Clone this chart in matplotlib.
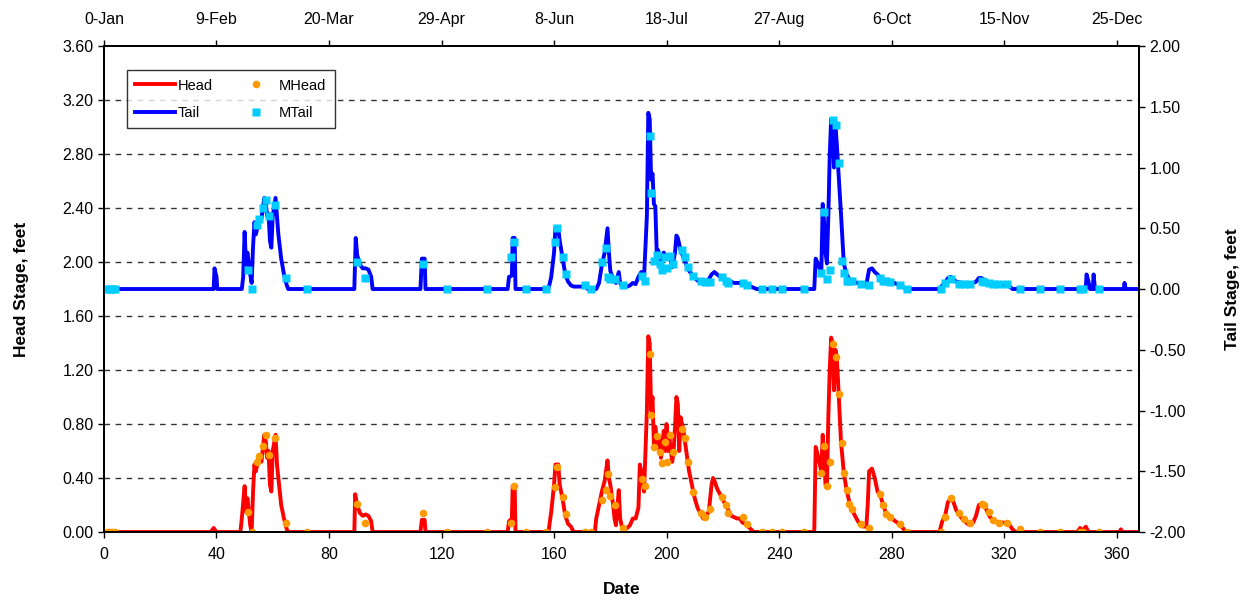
import matplotlib.pyplot as plt
import numpy as np

plt.rcParams['font.family'] = ['Liberation Sans', 'DejaVu Sans']

# head stage line (day, feet)
head_days = [0, 38, 39, 40, 48.5, 49, 50, 50.5, 51, 52, 52.5, 53, 53.5, 54, 55, 56, 57, 57.5, 58, 58.5,
             59, 59.5, 60, 61, 61.5, 62, 63, 64, 65, 65.5,
             89, 89.3, 90, 91, 92, 93, 94, 95, 95.5,
             112.5, 113, 114, 114.3,
             143.5, 144, 145, 145.3, 146, 146.3,
             158, 159, 160, 160.5, 161.5, 162, 163, 164, 165, 166, 167,
             174.5, 175, 176, 177, 178, 179, 179.5, 180, 181, 181.5, 182, 183, 183.5, 184, 185, 186, 187,
             188, 189, 190, 190.5, 191, 192, 193, 193.5, 194, 194.5, 195, 195.5, 196, 197, 197.5, 198,
             199, 199.5, 200, 200.5, 201, 202, 202.5, 203, 203.5, 204, 204.5, 205, 206, 207, 208, 209,
             210, 211, 212, 213, 214, 215, 216, 216.5, 217, 218, 219, 220, 221, 222, 223, 225, 226, 227,
             228, 229, 230, 231,
             252.5, 253, 254, 255, 255.5, 256, 256.5, 257, 257.5, 258, 258.5, 259, 259.5, 260, 260.5,
             261, 262, 263, 264, 265, 266, 267, 268, 269, 270, 271, 271.5, 272, 273, 274, 275, 276, 277,
             278, 280, 282, 284, 285,
             297, 298, 299, 300, 301, 302, 303, 304, 305, 306, 307, 308, 309, 310, 311, 312, 313, 314,
             315, 316, 317, 318, 320, 321, 322, 323, 324,
             346, 347, 348, 349, 350, 361, 361.5, 362, 368]
head = [0, 0, 0.03, 0, 0, 0.1, 0.34, 0.15, 0.25, 0.05, 0, 0.3, 0.5, 0.45, 0.55, 0.52, 0.72, 0.68, 0.55, 0.6,
        0.35, 0.3, 0.6, 0.72, 0.5, 0.4, 0.2, 0.1, 0.02, 0,
        0, 0.28, 0.2, 0.14, 0.12, 0.13, 0.12, 0.08, 0,
        0, 0.09, 0.09, 0,
        0, 0.08, 0.1, 0.34, 0.34, 0,
        0, 0.15, 0.35, 0.5, 0.5, 0.35, 0.25, 0.12, 0.06, 0.04, 0,
        0, 0.1, 0.2, 0.3, 0.38, 0.53, 0.4, 0.35, 0.2, 0.1, 0.05, 0.31, 0.1, 0.05, 0.02, 0.03, 0.05,
        0.1, 0.1, 0.18, 0.5, 0.45, 0.3, 0.9, 1.45, 1.4, 0.9, 1.0, 0.65, 0.78, 0.62, 0.7, 0.55,
        0.75, 0.6, 0.8, 0.6, 0.7, 0.52, 0.6, 0.78, 1.0, 0.95, 0.6, 0.85, 0.75, 0.6, 0.45, 0.35,
        0.25, 0.18, 0.14, 0.1, 0.12, 0.15, 0.35, 0.4, 0.38, 0.32, 0.28, 0.24, 0.2, 0.16, 0.12, 0.1, 0.1, 0.07,
        0.06, 0.04, 0.02, 0,
        0, 0.63, 0.55, 0.45, 0.72, 0.55, 0.35, 0.33, 0.85, 1.2, 1.44, 1.4, 1.05, 1.35, 1.3,
        1.1, 0.67, 0.44, 0.31, 0.22, 0.16, 0.12, 0.08, 0.05, 0.04, 0.04, 0.2, 0.45, 0.47, 0.4, 0.3, 0.27, 0.2,
        0.14, 0.1, 0.07, 0.03, 0,
        0, 0.08, 0.12, 0.22, 0.25, 0.22, 0.16, 0.13, 0.1, 0.08, 0.06, 0.05, 0.07, 0.12, 0.2, 0.21, 0.2, 0.15,
        0.11, 0.09, 0.08, 0.07, 0.07, 0.06, 0.05, 0.02, 0,
        0, 0.03, 0.01, 0.04, 0, 0, 0.02, 0, 0]

# tail stage line (day, feet)
tail_days = [0, 39, 39.3, 40, 40.3, 49, 49.5, 50, 50.5, 51, 52, 52.5, 53, 53.5, 54, 55, 56, 57, 57.5, 58,
             58.5, 59, 59.5, 60, 61, 61.5, 62, 63, 64, 65, 65.5,
             89, 89.5, 90, 91, 92, 93, 94, 95, 95.5,
             112.5, 113, 114, 114.3,
             143.5, 144, 145, 145.3, 146, 146.3,
             158, 159, 160, 160.5, 161.5, 162, 163, 164, 165, 166, 167, 171, 172,
             175, 176, 177, 178, 179, 179.5, 180, 181, 182, 183, 183.5, 184, 186, 187, 188, 189, 190,
             191, 192, 193, 193.5, 194, 194.5, 195, 195.5, 196, 196.5, 197, 198, 199, 200, 201, 202,
             203, 203.5, 204, 205, 206, 207, 208, 209, 210, 211, 212, 213, 215, 216, 217, 218, 219, 220,
             222, 224, 226, 228, 230, 231, 232,
             252.5, 253, 254, 255, 255.5, 256, 256.5, 257, 257.5, 258, 258.5, 259, 259.5, 260, 260.5,
             261, 262, 263, 264, 265, 266, 268, 269, 271, 271.5, 272, 273, 274, 275, 276, 278, 280, 282,
             284, 285,
             297, 298, 299, 300, 301, 302, 303, 305, 308, 310, 311, 312, 313, 315, 317, 319, 320, 322, 323,
             349, 349.3, 350, 350.5, 351.5, 351.8, 352.3, 362.5, 362.8, 363.2, 368]
tail = [0, 0, 0.17, 0.1, 0, 0, 0.1, 0.47, 0.2, 0.3, 0.12, 0.05, 0.35, 0.55, 0.45, 0.55, 0.58, 0.75, 0.72, 0.6,
        0.62, 0.4, 0.34, 0.6, 0.75, 0.6, 0.45, 0.25, 0.12, 0.03, 0,
        0, 0.42, 0.28, 0.2, 0.17, 0.17, 0.16, 0.1, 0,
        0, 0.25, 0.25, 0,
        0, 0.1, 0.11, 0.42, 0.42, 0,
        0, 0.1, 0.3, 0.51, 0.5, 0.4, 0.26, 0.12, 0.06, 0.03, 0.02, 0.02, 0,
        0, 0.05, 0.2, 0.3, 0.5, 0.3, 0.15, 0.08, 0.05, 0.14, 0.05, 0.03, 0.02, 0.03, 0.05, 0.04, 0.1,
        0.14, 0.1, 0.6, 1.45, 1.4, 0.9, 0.95, 0.7, 0.68, 0.3, 0.32, 0.22, 0.3, 0.25, 0.28, 0.18,
        0.3, 0.44, 0.42, 0.32, 0.26, 0.2, 0.15, 0.12, 0.09, 0.07, 0.06, 0.05, 0.08, 0.12, 0.14, 0.12, 0.1, 0.09,
        0.07, 0.05, 0.05, 0.04, 0.02, 0.01, 0,
        0, 0.25, 0.2, 0.12, 0.7, 0.55, 0.3, 0.21, 0.6, 1.1, 1.4, 1.38, 1.0, 1.36, 1.2,
        1.0, 0.62, 0.21, 0.12, 0.08, 0.06, 0.05, 0.04, 0.03, 0.1, 0.16, 0.17, 0.14, 0.12, 0.09, 0.07, 0.06, 0.04,
        0.02, 0,
        0, 0.03, 0.05, 0.09, 0.1, 0.08, 0.06, 0.05, 0.04, 0.06, 0.09, 0.09, 0.07, 0.05, 0.04, 0.04, 0.03, 0.02, 0,
        0, 0.12, 0.06, 0, 0, 0.12, 0, 0, 0.05, 0, 0]

# measured points
m_days = [1, 2, 3, 4, 51.3, 52.6, 54.3, 55, 56.5, 57.5, 58.5, 60.8, 64.6, 72.2, 90, 92.8, 113.5, 122, 136,
          144.8, 145.8, 150, 157, 160.5, 160.9, 163.2, 164.4, 171, 173, 177, 178.5, 179.3, 180, 181.5, 184.6,
          191.4, 192.5, 194, 194.6, 195.5, 196.6, 197.7, 198.5, 199.6, 200.2, 201.3, 202.3, 205.6, 206.7,
          207.5, 209.5, 212.4, 213.8, 215.6, 219.8, 221, 222, 227, 228.7, 234, 237.6, 241, 248.8,
          255, 255.8, 257.2, 258, 259, 260.4, 261.2, 262.2, 263, 264, 265, 265.8, 269, 271.8, 276, 277, 278,
          279.6, 283, 285.6, 297.4, 299, 301, 304, 305.7, 308, 312, 313, 314.5, 316, 318, 321, 325.5, 332.6,
          339.7, 346.9, 348, 353.6]
m_head = [0, 0, 0, 0, 0.15, 0, 0.52, 0.56, 0.64, 0.72, 0.57, 0.7, 0.07, 0, 0.21, 0.07, 0.14, 0, 0,
          0.07, 0.34, 0, 0, 0.33, 0.48, 0.26, 0.13, 0, 0, 0.24, 0.31, 0.43, 0.27, 0.2, 0.03,
          0.39, 0.34, 1.32, 0.87, 0.63, 0.71, 0.59, 0.51, 0.67, 0.52, 0.72, 0.59, 0.76, 0.7,
          0.52, 0.3, 0.14, 0.11, 0.17, 0.26, 0.2, 0.14, 0.11, 0.06, 0, 0, 0, 0,
          0.44, 0.64, 0.34, 0.52, 1.39, 1.3, 1.02, 0.66, 0.44, 0.31, 0.21, 0.17, 0.06, 0.03, 0.28, 0.2, 0.13,
          0.11, 0.06, 0, 0, 0.11, 0.25, 0.14, 0.1, 0.07, 0.21, 0.2, 0.15, 0.09, 0.07, 0.07, 0.02, 0,
          0, 0, 0, 0]
m_tail = [0, 0, 0, 0, 0.16, 0, 0.53, 0.58, 0.67, 0.73, 0.6, 0.69, 0.09, 0, 0.22, 0.09, 0.21, 0, 0,
          0.26, 0.39, 0, 0, 0.39, 0.5, 0.26, 0.12, 0.03, 0, 0.22, 0.34, 0.1, 0.08, 0.08, 0.03,
          0.11, 0.07, 1.26, 0.79, 0.23, 0.28, 0.21, 0.16, 0.26, 0.17, 0.27, 0.21, 0.32, 0.26,
          0.18, 0.11, 0.07, 0.06, 0.06, 0.1, 0.07, 0.05, 0.05, 0.03, 0, 0, 0, 0,
          0.13, 0.63, 0.08, 0.16, 1.39, 1.35, 1.04, 0.23, 0.13, 0.07, 0.07, 0.07, 0.04, 0.03, 0.09, 0.07, 0.07,
          0.06, 0.03, 0, 0, 0.05, 0.08, 0.04, 0.04, 0.04, 0.07, 0.06, 0.05, 0.04, 0.04, 0.04, 0, 0,
          0, 0, 0, 0]

x_ticks = np.arange(0, 361, 40)
date_labels = ['0-Jan', '9-Feb', '20-Mar', '29-Apr', '8-Jun', '18-Jul', '27-Aug', '6-Oct', '15-Nov', '25-Dec']

fig = plt.figure(figsize=(12.45, 6), dpi=100)
ax = fig.add_axes([0.0835, 0.1133, 0.8315, 0.81])
ax2 = ax.twinx()
axt = ax.twiny()

h1, = ax.plot(head_days, head, color='#ff0000', lw=2.8, label='Head', zorder=3)
h3, = ax.plot(m_days, m_head, 'o', color='#ff9900', ms=5.5, mec='none', label='MHead', zorder=4)
h2, = ax2.plot(tail_days, tail, color='#0000ff', lw=2.8, label='Tail', zorder=3)
h4, = ax2.plot(m_days, m_tail, 's', color='#00ccff', ms=5.5, mec='none', label='MTail', zorder=4)

ax.set_xlim(0, 368)
ax.set_ylim(0, 3.6)
ax2.set_ylim(-2, 2)
axt.set_xlim(0, 368)

ax.set_xticks(x_ticks)
ax.set_yticks(np.arange(0, 3.61, 0.4))
ax.set_yticklabels(['%.2f' % v for v in np.arange(0, 3.61, 0.4)])
ax2.set_yticks(np.arange(-2, 2.01, 0.5))
ax2.set_yticklabels(['%.2f' % v for v in np.arange(-2, 2.01, 0.5)])
axt.set_xticks(x_ticks)
axt.set_xticklabels(date_labels)

for a in (ax, ax2, axt):
    a.tick_params(labelsize=11.5, length=4, width=1, direction='out')
    for s in a.spines.values():
        s.set_linewidth(1.2)
ax.tick_params(axis='x', pad=7)
axt.tick_params(axis='x', pad=10)

for g in np.arange(0.4, 3.3, 0.4):
    ax.axhline(g, color='#333333', lw=1, ls=(0, (4, 4)), zorder=1)

ax.set_xlabel('Date', fontsize=12.5, fontweight='bold', labelpad=14)
ax.set_ylabel('Head Stage, feet', fontsize=12.5, fontweight='bold', labelpad=24)
ax2.set_ylabel('Tail Stage, feet', fontsize=12.5, fontweight='bold', labelpad=28)

leg = ax2.legend([h1, h2, h3, h4], ['Head', 'Tail', 'MHead', 'MTail'], ncol=2, loc='upper left',
                 bbox_to_anchor=(0.022, 0.951), borderaxespad=0, fontsize=10.5, frameon=True,
                 fancybox=False, edgecolor='black', handlelength=2.7, columnspacing=1.6,
                 borderpad=0.6, labelspacing=0.9, handletextpad=0.2)
leg.get_frame().set_linewidth(1)
leg.set_zorder(10)

fig.savefig('out.png', dpi=100)
